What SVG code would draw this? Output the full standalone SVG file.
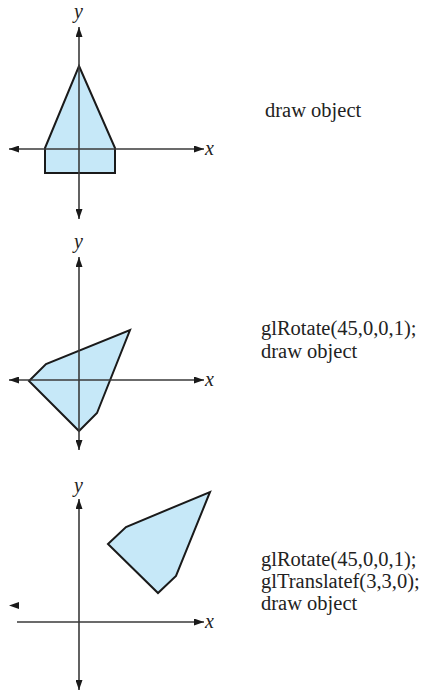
<svg xmlns="http://www.w3.org/2000/svg" width="427" height="690" viewBox="0 0 427 690">
<style>
.ax{stroke:#3a3a3a;stroke-width:1.6;fill:none}
.ah{fill:#1a1a1a}
.poly{fill:#c6e8f8;stroke:#1a1a1a;stroke-width:2;stroke-linejoin:miter}
.lab{font-family:"Liberation Serif",serif;font-style:italic;font-size:20px;fill:#222}
.code{font-family:"Liberation Serif",serif;font-size:20.5px;fill:#222}
</style>
<defs>
<marker id="arr" viewBox="0 0 10 7" refX="10" refY="3.5" markerWidth="10" markerHeight="7" markerUnits="userSpaceOnUse" orient="auto">
<path d="M0,0 L10,3.5 L0,7 Z" fill="#1a1a1a"/>
</marker>
</defs>
<g id="panel1">
<polygon class="poly" points="79,66 115,148 115,173 45,173 45,148"/>
<g id="connectors1">
<line class="ax" x1="79" y1="150" x2="79" y2="27" marker-end="url(#arr)"/>
<line class="ax" x1="79" y1="150" x2="79" y2="219" marker-end="url(#arr)"/>
<line class="ax" x1="79" y1="149" x2="9" y2="149" marker-end="url(#arr)"/>
<line class="ax" x1="79" y1="149" x2="204" y2="149" marker-end="url(#arr)"/>
</g>
<text class="lab" x="74" y="18">y</text>
<text class="lab" x="205" y="155">x</text>
</g>
<g id="label1"><text class="code" x="265" y="117">draw object</text></g>
<g id="panel2">
<polygon class="poly" points="29,381 46,364 130,330 97,413 79,431"/>
<g id="connectors2">
<line class="ax" x1="79" y1="380" x2="79" y2="257" marker-end="url(#arr)"/>
<line class="ax" x1="79" y1="380" x2="79" y2="450" marker-end="url(#arr)"/>
<line class="ax" x1="79" y1="380" x2="9" y2="380" marker-end="url(#arr)"/>
<line class="ax" x1="79" y1="380" x2="204" y2="380" marker-end="url(#arr)"/>
</g>
<text class="lab" x="74" y="248">y</text>
<text class="lab" x="205" y="386">x</text>
</g>
<g id="label2">
<text class="code" x="261" y="335">glRotate(45,0,0,1);</text>
<text class="code" x="261" y="358">draw object</text>
</g>
<g id="panel3">
<polygon class="poly" points="108,544 126,527 210,492 176,576 158,593"/>
<g id="connectors3">
<line class="ax" x1="79" y1="622" x2="79" y2="499" marker-end="url(#arr)"/>
<line class="ax" x1="79" y1="622" x2="79" y2="690" marker-end="url(#arr)"/>
<line class="ax" x1="17" y1="622" x2="204" y2="622" marker-end="url(#arr)"/>
<path class="ah" d="M9,605.5 L19,602 L19,609 Z"/>
</g>
<text class="lab" x="74" y="492">y</text>
<text class="lab" x="205" y="628">x</text>
</g>
<g id="label3">
<text class="code" x="261" y="566">glRotate(45,0,0,1);</text>
<text class="code" x="261" y="588">glTranslatef(3,3,0);</text>
<text class="code" x="261" y="610">draw object</text>
</g>
</svg>
